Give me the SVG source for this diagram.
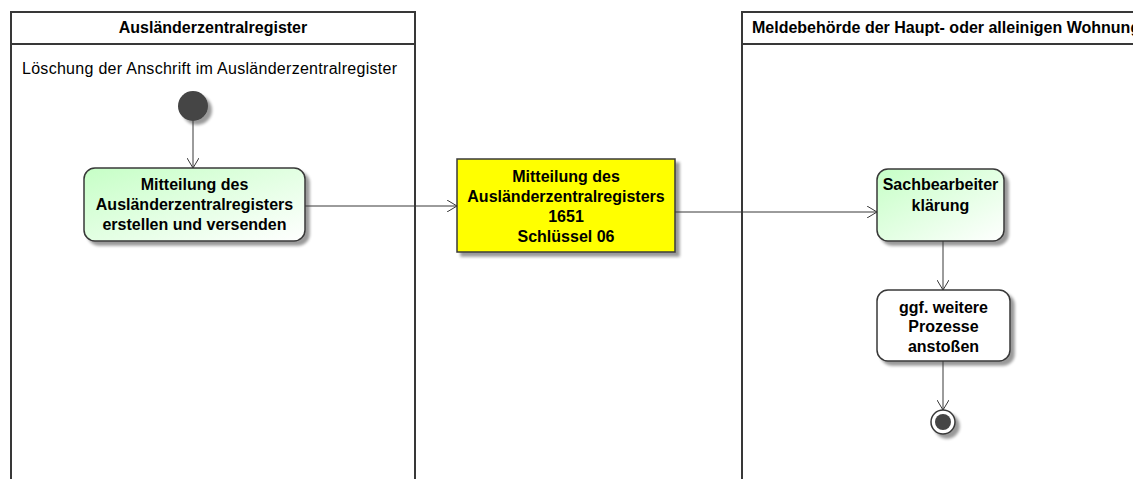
<svg xmlns="http://www.w3.org/2000/svg" width="1133" height="479" viewBox="0 0 1133 479">
<defs>
<linearGradient id="g" x1="0" y1="0" x2="1" y2="1">
<stop offset="0" stop-color="#c6ffc6"/>
<stop offset="1" stop-color="#ffffff"/>
</linearGradient>
<filter id="sh" x="-20%" y="-20%" width="150%" height="150%">
<feGaussianBlur in="SourceAlpha" stdDeviation="1.5"/>
<feOffset dx="4" dy="4" result="b"/>
<feComponentTransfer><feFuncA type="linear" slope="0.4"/></feComponentTransfer>
<feMerge><feMergeNode/><feMergeNode in="SourceGraphic"/></feMerge>
</filter>
<marker id="arr" markerWidth="12" markerHeight="12" refX="10" refY="6" orient="auto" markerUnits="userSpaceOnUse">
<path d="M0,0 L10,6 L0,12" fill="none" stroke="#383838" stroke-width="1"/>
</marker>
</defs>
<style>
.lane{fill:none;stroke:#383838;stroke-width:2}
.t{font-family:"Liberation Sans",Arial,sans-serif;font-size:16px;fill:#000}
.b{font-weight:bold}
.act{stroke:#383838;stroke-width:1.5}
.c{stroke:#383838;stroke-width:1;fill:none}
</style>
<g id="lane1">
<path class="lane" d="M11,479 V12 H415 V479 M11,44 H415"/>
<text class="t b" x="213" y="33" text-anchor="middle">Ausländerzentralregister</text>
<text class="t" x="22" y="74" textLength="375" lengthAdjust="spacing">Löschung der Anschrift im Ausländerzentralregister</text>
</g>
<g id="lane2">
<path class="lane" d="M742,479 V12 H1140 M742,44 H1140"/>
<text class="t b" x="752" y="33">Meldebehörde der Haupt- oder alleinigen Wohnung</text>
</g>
<g id="start">
<circle cx="193" cy="106" r="15" fill="#444" filter="url(#sh)"/>
</g>
<g id="a1">
<rect class="act" x="84" y="168" width="221" height="73" rx="11" fill="url(#g)" filter="url(#sh)"/>
<text class="t b" x="194.5" y="190" text-anchor="middle">Mitteilung des</text>
<text class="t b" x="194.5" y="210" text-anchor="middle">Ausländerzentralregisters</text>
<text class="t b" x="194.5" y="230" text-anchor="middle">erstellen und versenden</text>
</g>
<g id="obj">
<rect x="457" y="159" width="218" height="93" fill="#ffff00" stroke="#383838" stroke-width="1.5" filter="url(#sh)"/>
<text class="t b" x="566" y="182" text-anchor="middle">Mitteilung des</text>
<text class="t b" x="566" y="202" text-anchor="middle">Ausländerzentralregisters</text>
<text class="t b" x="566" y="222" text-anchor="middle">1651</text>
<text class="t b" x="566" y="242" text-anchor="middle">Schlüssel 06</text>
</g>
<g id="a2">
<rect class="act" x="877" y="169" width="127" height="72" rx="11" fill="url(#g)" filter="url(#sh)"/>
<text class="t b" x="940.5" y="190" text-anchor="middle">Sachbearbeiter</text>
<text class="t b" x="940.5" y="211" text-anchor="middle">klärung</text>
</g>
<g id="a3">
<rect class="act" x="877" y="290" width="133" height="71" rx="11" fill="#fff" filter="url(#sh)"/>
<text class="t b" x="943.5" y="313" text-anchor="middle">ggf. weitere</text>
<text class="t b" x="943.5" y="332" text-anchor="middle">Prozesse</text>
<text class="t b" x="943.5" y="352" text-anchor="middle">anstoßen</text>
</g>
<g id="end">
<g filter="url(#sh)">
<circle cx="943" cy="422" r="12" fill="#fff" stroke="#383838" stroke-width="1.5"/>
<circle cx="943" cy="422" r="8" fill="#444"/>
</g>
</g>
<g id="connectors">
<line class="c" x1="193" y1="121" x2="193" y2="168" marker-end="url(#arr)"/>
<line class="c" x1="305" y1="206" x2="457" y2="206" marker-end="url(#arr)"/>
<polyline class="c" points="675,212 877,212" marker-end="url(#arr)"/>
<line class="c" x1="943" y1="241" x2="943" y2="290" marker-end="url(#arr)"/>
<line class="c" x1="943" y1="361" x2="943" y2="410" marker-end="url(#arr)"/>
</g>
</svg>
